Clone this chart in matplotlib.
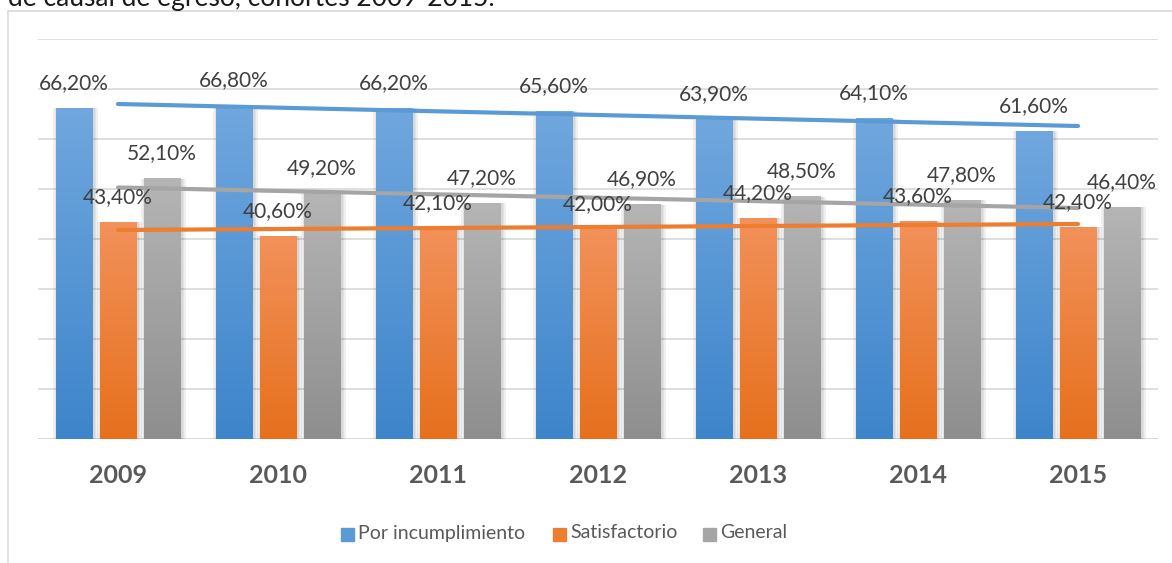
import numpy as np
import matplotlib
matplotlib.use("Agg")
import matplotlib.pyplot as plt
from matplotlib.patches import Rectangle
from matplotlib.colors import to_rgb

plt.rcParams['font.family'] = ['Lato', 'DejaVu Sans']

# datos
anios = ['2009', '2010', '2011', '2012', '2013', '2014', '2015']
series = ['Por incumplimiento', 'Satisfactorio', 'General']
incumplimiento = [66.2, 66.8, 66.2, 65.6, 63.9, 64.1, 61.6]
satisfactorio = [43.4, 40.6, 42.1, 42.0, 44.2, 43.6, 42.4]
general = [52.1, 49.2, 47.2, 46.9, 48.5, 47.8, 46.4]
# lineas de tendencia (inicio 2009, fin 2015)
tend_ini = [67.0, 41.8, 50.3]
tend_fin = [62.6, 43.0, 46.2]

colores_arriba = ['#70a7de', '#f2915a', '#b5b5b5']
colores_abajo = ['#3d85cb', '#e6701c', '#8e8e8e']
colores_linea = ['#5b9bd5', '#ed7d31', '#a5a5a5']

W, H = 1172, 563
fig = plt.figure(figsize=(W / 100, H / 100), dpi=100)
fig.patch.set_facecolor('white')

# marco del grafico y titulo (recortado arriba, como en el original)
fig.patches.append(Rectangle((8 / W, -0.1), 1.2, 1.1 - 11 / H, transform=fig.transFigure,
                             fill=False, edgecolor='#d9d9d9', lw=1.2))
fig.text(8 / W, 1 - 6 / H, 'de causal de egreso, cohortes 2009-2015.', fontsize=19,
         color='#1a1a1a', va='baseline', ha='left')

ax = fig.add_axes([38 / W, (H - 439) / H, 1120 / W, 400 / H])
ax.set_yticks(np.arange(0, 81, 10))
ax.yaxis.grid(True, color='#d9d9d9', lw=1.2)
ax.set_axisbelow(True)
ax.tick_params(left=False, labelleft=False, bottom=False, labelbottom=False)
for s in ax.spines.values():
    s.set_visible(False)
ax.axhline(0, color='#d9d9d9', lw=1.5, zorder=1)

x = np.arange(len(anios))
ancho = 0.23
desp = 0.275
datos = [incumplimiento, satisfactorio, general]
grad = np.linspace(0, 1, 256).reshape(-1, 1)

for i, vals in enumerate(datos):
    pos = x + (i - 1) * desp
    # sombra suave
    for a, e in [(0.06, 0.05), (0.05, 0.03), (0.05, 0.015)]:
        ax.bar(pos + 0.01, vals, ancho + e, color='#000000', alpha=a, zorder=2, lw=0)
    barras = ax.bar(pos, vals, ancho, color=colores_linea[i], zorder=3, lw=0, label=series[i])
    c1 = np.array(to_rgb(colores_abajo[i]))
    c2 = np.array(to_rgb(colores_arriba[i]))
    img = c1 + (c2 - c1) * grad[:, :, None] * np.ones((1, 1, 3))
    for b in barras:
        bx, by = b.get_x(), b.get_y()
        ax.imshow(img, extent=(bx, bx + b.get_width(), by, by + b.get_height()),
                  origin='lower', aspect='auto', zorder=3.5, clip_path=b, interpolation='bilinear')
    for p, v in zip(pos, vals):
        ax.annotate(f'{v:.2f}'.replace('.', ',') + '%', (p, v), xytext=(0, 18),
                    textcoords='offset points', ha='center', va='center',
                    fontsize=15, color='#404040', zorder=6)
    ax.plot([x[0], x[-1]], [tend_ini[i], tend_fin[i]], color=colores_linea[i], lw=3,
            solid_capstyle='round', zorder=5)

ax.set_xlim(-0.5, 6.5)
ax.set_ylim(0, 80)

for xi, a in zip(x, anios):
    ax.annotate(a, (xi, 0), xytext=(0, -26), textcoords='offset points', ha='center',
                va='center', fontsize=18, fontweight='bold', color='#595959')

# leyenda
ley_x = [341, 553, 703]
for i, nombre in enumerate(series):
    fig.patches.append(Rectangle((ley_x[i] / W, (H - 541) / H), 13 / W, 13 / H,
                                 transform=fig.transFigure, color=colores_linea[i]))
    fig.text((ley_x[i] + 17) / W, (H - 533) / H, nombre, fontsize=14, color='#595959',
             va='center', ha='left')

fig.savefig('out.png', dpi=100)
